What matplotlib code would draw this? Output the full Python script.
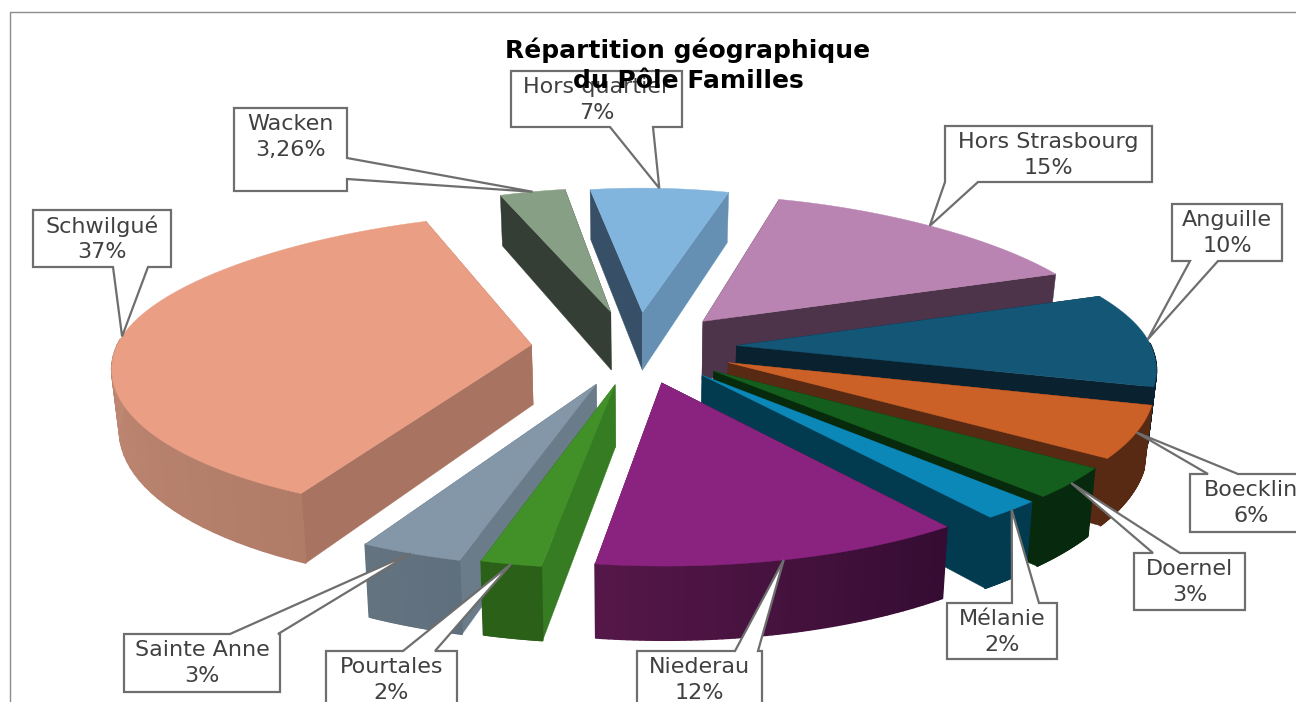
import numpy as np
import matplotlib
matplotlib.use('Agg')
import matplotlib.pyplot as plt
from matplotlib.collections import PolyCollection
from matplotlib.colors import to_rgb

# slices, clockwise
names = ['Hors quartier', 'Hors Strasbourg', 'Anguille', 'Boecklin', 'Doernel', 'Mélanie',
         'Niederau', 'Pourtales', 'Sainte Anne', 'Schwilgué', 'Wacken']
values = [7, 15, 10, 5.5, 3.2, 2, 12.3, 2, 3.4, 36.6, 3.26]
pct_labels = ['7%', '15%', '10%', '6%', '3%', '2%', '12%', '2%', '3%', '37%', '3,26%']

top_colors = ['#82B5DE', '#B984B2', '#135676', '#CC6128', '#145F1E', '#0B88B8',
              '#8A2380', '#419128', '#8397A8', '#EA9E84', '#869F85']
wall_start = ['#375067', '#4E344B', '#0A222F', '#582913', '#072A0D', '#023B4F',
              '#3A0E38', '#367C23', '#6A7B8A', '#A87361', '#353E35']
wall_end = ['#6590B3', '#4E344B', '#0A222F', '#582913', '#072A0D', '#023B4F',
            '#551748', '#2B6018', '#5F6F7E', '#A87361', '#353E35']
rim_start = ['#6590B3', '#4E344B', '#0A222F', '#582913', '#07290D', '#023B4F',
             '#350C33', '#2B6018', '#5F6F7E', '#B07C68', '#353E35']
rim_end = ['#6590B3', '#4E344B', '#0A222F', '#582913', '#07290D', '#023B4F',
           '#551748', '#2B6018', '#63737F', '#D0957F', '#353E35']
explodes = [0.24, 0.24, 0.24, 0.24, 0.24, 0.24, 0.24, 0.25, 0.26, 0.255, 0.25]

# label boxes in pixels: x0, y0, x1, y1, side of the pointer, pointer base a, b
boxes = [(511, 71, 682, 127, 'bottom', 610, 653),
         (945, 126, 1152, 182, 'bottom', 945, 978),
         (1172, 204, 1282, 261, 'bottom', 1190, 1218),
         (1190, 474, 1312, 532, 'top', 1208, 1238),
         (1134, 553, 1245, 610, 'top', 1153, 1180),
         (947, 603, 1057, 659, 'top', 1012, 1039),
         (637, 651, 762, 710, 'top', 735, 758),
         (326, 651, 457, 710, 'top', 403, 435),
         (124, 634, 280, 692, 'top', 230, 278),
         (33, 210, 171, 267, 'bottom', 113, 148),
         (234, 108, 347, 191, 'right', 158, 179)]

cx, cy = 637, 347
radius = 415
squash = 0.359
persp = 0.131
back_narrow = 0.075
depth = 60
start_angle = -9.3


def project(x, y, low=False):
    s = 1 / (1 + persp * y)
    # the far side of the pie closes in a bit faster than the near side opens
    narrow = 1 - back_narrow * np.clip(y, 0, None) ** 2
    px = cx + radius * x * s * narrow
    py = cy - radius * squash * y * s
    if low:
        px = cx + (px - cx) * 0.985
        py = py + depth * s ** 1.2
    return px, py


def slice_points(a0, a1, e, low=False, n=60):
    mid = np.radians((a0 + a1) / 2)
    ox, oy = e * np.sin(mid), e * np.cos(mid)
    t = np.radians(np.linspace(a0, a1, n))
    return project(ox + np.sin(t), oy + np.cos(t), low), project(ox, oy, low)


fig = plt.figure(figsize=(12.96, 7.02), dpi=100)
ax = fig.add_axes([0, 0, 1, 1])
ax.set_xlim(0, 1296)
ax.set_ylim(702, 0)
ax.axis('off')

ax.plot([10, 10, 1296], [702, 12, 12], color='#8C8C8C', lw=1, zorder=1)

fracs = np.array(values) / sum(values) * 360
ends = start_angle + np.cumsum(fracs)
starts = ends - fracs
mids = (starts + ends) / 2

# back slices first
order = np.argsort(-np.cos(np.radians(mids)))
z = 2
for i in order:
    (rx, ry), (tx, ty) = slice_points(starts[i], ends[i], explodes[i])
    (lx, ly), (bx, by) = slice_points(starts[i], ends[i], explodes[i], low=True)

    # flat side walls, the one facing us goes last
    zs, ze = (z + 1, z) if mids[i] > 180 else (z, z + 1)
    ax.fill([tx, rx[0], lx[0], bx], [ty, ry[0], ly[0], by], color=wall_start[i], lw=0.3, zorder=zs)
    ax.fill([tx, rx[-1], lx[-1], bx], [ty, ry[-1], ly[-1], by], color=wall_end[i], lw=0.3, zorder=ze)

    # outer rim, only the part that faces us
    t = np.linspace(starts[i], ends[i], 60)
    c0, c1 = np.array(to_rgb(rim_start[i])), np.array(to_rgb(rim_end[i]))
    quads, cols = [], []
    for k in range(59):
        if np.cos(np.radians(t[k])) < 0.02:
            quads.append([(rx[k], ry[k]), (rx[k + 1], ry[k + 1]), (lx[k + 1], ly[k + 1]), (lx[k], ly[k])])
            cols.append(c0 + (c1 - c0) * k / 58)
    if quads:
        ax.add_collection(PolyCollection(quads, facecolors=cols, edgecolors=cols, linewidths=1.2, zorder=z + 2))

    ax.fill(np.r_[tx, rx], np.r_[ty, ry], color=top_colors[i], lw=0.3, zorder=z + 3)
    z += 4

# callouts
for i, (x0, y0, x1, y1, side, a, b) in enumerate(boxes):
    (rx, ry), _ = slice_points(starts[i], ends[i], explodes[i], n=61)
    tipx, tipy = rx[30], ry[30]
    if side == 'bottom':
        pts = [(x0, y0), (x1, y0), (x1, y1), (b, y1), (tipx, tipy), (a, y1), (x0, y1)]
    elif side == 'top':
        pts = [(x0, y0), (a, y0), (tipx, tipy), (b, y0), (x1, y0), (x1, y1), (x0, y1)]
    else:
        pts = [(x0, y0), (x1, y0), (x1, a), (tipx, tipy), (x1, b), (x1, y1), (x0, y1)]
    ax.add_patch(plt.Polygon(pts, closed=True, facecolor='white', edgecolor='#6E6E6E', lw=1.6,
                             joinstyle='miter', zorder=200, clip_on=True))
    ax.text((x0 + x1) / 2, y0 + 16, names[i], ha='center', va='center',
            fontsize=16, color='#404040', zorder=201)
    ax.text((x0 + x1) / 2, y0 + 42, pct_labels[i], ha='center', va='center',
            fontsize=16, color='#404040', zorder=201)

ax.text(688, 50, 'Répartition géographique', ha='center', va='center', fontsize=18,
        fontweight='bold', color='black', zorder=300)
ax.text(688, 81, 'du Pôle Familles', ha='center', va='center', fontsize=18,
        fontweight='bold', color='black', zorder=300)

fig.savefig('out.png', dpi=100)
